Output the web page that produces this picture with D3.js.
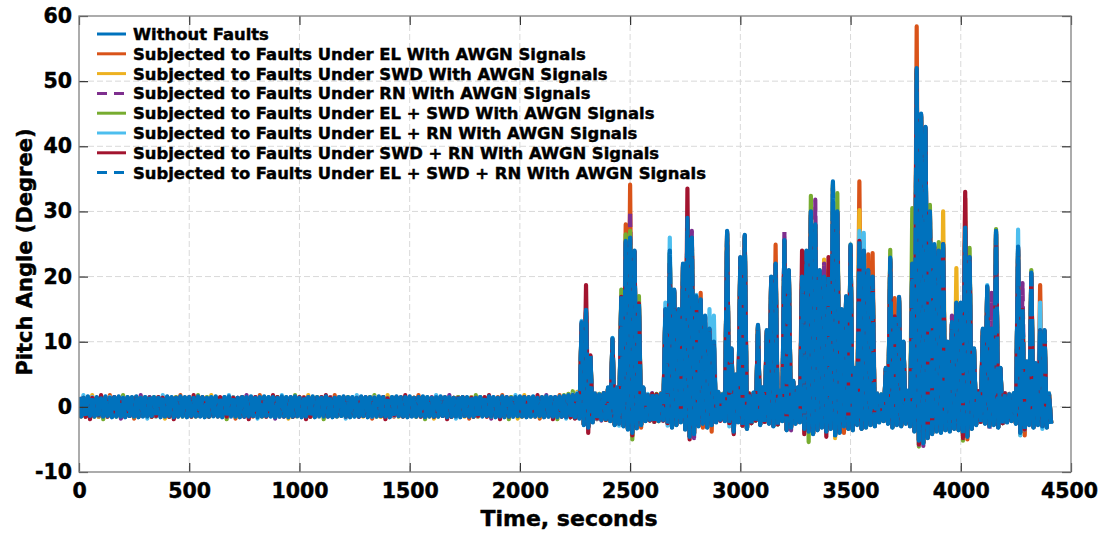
<!DOCTYPE html>
<html>
<head>
<meta charset="utf-8">
<script src="https://cdn.jsdelivr.net/npm/d3@7"></script>
<style>
  html, body { margin: 0; padding: 0; background: #fff; }
  svg { display: block; }
  text { font-family: "DejaVu Sans", sans-serif; font-weight: bold; fill: #000; stroke: #000; stroke-width: 0.45px; }
</style>
</head>
<body>
<svg id="chart" width="1099" height="534"></svg>
<script>
// Pitch angle record, summarised as one peak and one trough per 20 s window.
const binSeconds = 20;

const xTickValues = [0, 500, 1000, 1500, 2000, 2500, 3000, 3500, 4000, 4500];
const yTickValues = [-10, 0, 10, 20, 30, 40, 50, 60];

const seriesNames = [
  "Without Faults",
  "Subjected to Faults Under EL With AWGN Signals",
  "Subjected to Faults Under SWD With AWGN Signals",
  "Subjected to Faults Under RN With AWGN Signals",
  "Subjected to Faults Under EL + SWD With AWGN Signals",
  "Subjected to Faults Under EL + RN With AWGN Signals",
  "Subjected to Faults Under SWD + RN With AWGN Signals",
  "Subjected to Faults Under EL + SWD + RN With AWGN Signals"
];

// Without Faults
const wfPeaks = [
  1.4,1.3,1.5,1.4,1.4,1.3,1.5,1.3,1.4,1.5,1.3,1.4,1.4,1.5,1.3,1.4,
  1.5,1.4,1.3,1.4,1.5,1.4,1.3,1.5,1.4,1.4,1.3,1.5,1.4,1.3,1.4,1.5,
  1.3,1.4,1.5,1.4,1.3,1.4,1.4,1.5,1.3,1.4,1.5,1.4,1.4,1.3,1.5,1.4,
  1.4,1.5,1.3,1.4,1.4,1.5,1.4,1.3,1.5,1.4,1.3,1.4,1.5,1.4,1.4,1.3,
  1.5,1.4,1.4,1.3,1.5,1.4,1.3,1.4,1.5,1.4,1.4,1.5,1.3,1.4,1.5,1.4,
  1.3,1.4,1.5,1.4,1.4,1.3,1.5,1.4,1.4,1.5,1.3,1.4,1.4,1.5,1.4,1.3,
  1.5,1.4,1.3,1.4,1.5,1.4,1.4,1.5,1.3,1.4,1.5,1.4,1.4,1.5,1.6,1.7,
  1.7,1.9,12,14,7,1.9,1.8,2.0,2.8,9.8,2.8,16,24,25,23,15,
  2.8,1.7,1.9,1.8,1.9,14,23,17,14,21,28,25,16,15.5,13,11,
  9,2.2,1.8,26,8,4.5,22,25.5,1.9,2.1,12,2.8,11,19,21,2.4,
  24.5,20,3.6,2.8,19,23,29,27,20,19,19,33.5,29,14,16,24,
  5.5,24.5,23,20,19,1.9,1.8,5.5,22,13,16,9.5,2.4,21,50,44,
  42,29,24,23,24,9.5,12,15,15,26.5,22,8.5,2.4,11,17.5,11,
  26,5.5,1.9,1.8,2.0,23.5,14,6.5,19.5,6.2,11,11,1.9
];
const wfTroughs = [
  -1.4,-1.5,-1.3,-1.4,-1.5,-1.4,-1.3,-1.5,-1.4,-1.4,-1.5,-1.3,-1.4,-1.5,-1.4,-1.4,
  -1.3,-1.4,-1.5,-1.4,-1.3,-1.5,-1.4,-1.4,-1.5,-1.3,-1.4,-1.4,-1.5,-1.4,-1.3,-1.4,
  -1.5,-1.4,-1.3,-1.4,-1.5,-1.4,-1.4,-1.3,-1.5,-1.4,-1.3,-1.4,-1.5,-1.4,-1.4,-1.5,
  -1.4,-1.3,-1.5,-1.4,-1.4,-1.5,-1.3,-1.4,-1.4,-1.5,-1.4,-1.3,-1.4,-1.5,-1.4,-1.4,
  -1.3,-1.5,-1.4,-1.4,-1.3,-1.4,-1.5,-1.4,-1.3,-1.4,-1.5,-1.4,-1.4,-1.3,-1.5,-1.4,
  -1.4,-1.4,-1.3,-1.5,-1.4,-1.4,-1.5,-1.3,-1.4,-1.4,-1.5,-1.4,-1.3,-1.4,-1.5,-1.4,
  -1.5,-1.4,-1.4,-1.3,-1.4,-1.5,-1.4,-1.4,-1.3,-1.5,-1.4,-1.4,-1.5,-1.4,-1.5,-1.5,
  -1.5,-1.7,-2.6,-3.0,-2.2,-1.7,-1.9,-1.8,-2.1,-2.6,-2.4,-2.8,-3.3,-3.8,-3.1,-2.6,
  -2.1,-1.9,-2.2,-2.1,-1.9,-2.4,-3.0,-2.6,-2.2,-3.3,-4.4,-4.0,-2.8,-2.4,-3.0,-2.6,
  -2.2,-1.9,-2.1,-2.4,-3.6,-2.2,-2.8,-3.2,-2.4,-2.1,-2.6,-2.2,-2.4,-2.8,-2.6,-2.1,
  -3.4,-3.0,-2.4,-2.2,-3.2,-3.6,-4.0,-3.4,-3.0,-3.6,-3.2,-4.2,-3.8,-2.8,-3.2,-3.4,
  -2.6,-3.2,-3.0,-2.6,-2.8,-2.2,-2.1,-2.4,-3.0,-2.6,-2.8,-2.4,-2.8,-3.6,-5.0,-5.4,
  -4.6,-4.0,-3.6,-3.8,-3.4,-3.6,-3.2,-3.4,-4.0,-4.4,-3.2,-2.6,-2.2,-2.4,-2.8,-2.6,
  -3.0,-2.4,-2.2,-2.1,-2.4,-3.8,-3.4,-2.6,-3.0,-2.6,-2.8,-3.0,-2.4
];

// Faults under EL
const elPeaks = [
  1.4,1.3,1.5,1.4,1.3,1.4,1.5,1.8,1.4,1.5,1.4,1.3,1.4,1.5,1.3,1.4,
  1.3,1.4,1.4,1.5,1.3,1.4,1.3,1.8,1.4,1.4,1.3,1.5,1.4,1.3,1.4,1.5,
  1.4,1.3,1.5,1.4,1.3,1.4,1.5,1.3,1.4,1.8,1.4,1.3,1.4,1.5,1.3,1.4,
  1.3,1.4,1.4,1.5,1.3,1.4,1.3,1.5,1.4,1.4,1.8,1.5,1.4,1.3,1.4,1.5,
  1.4,1.3,1.5,1.4,1.3,1.4,1.5,1.3,1.4,1.5,1.4,1.3,1.4,1.8,1.3,1.4,
  1.3,1.4,1.4,1.5,1.3,1.4,1.3,1.5,1.4,1.4,1.3,1.5,1.4,1.3,1.4,1.5,
  1.8,1.3,1.5,1.4,1.3,1.4,1.5,1.3,1.4,1.5,1.4,1.3,1.4,1.8,1.5,1.6,
  1.9,1.8,12.5,14.5,7.5,2.1,1.8,2.0,2.9,10,2.9,16.5,28,34.1,23.5,15.5,
  2.9,1.9,1.8,1.9,2.1,14.5,23.5,17.5,14.5,21.5,28.5,25.5,16.5,17.5,13.5,11.5,
  9.5,2.2,2.0,26.5,8.5,4.8,22.5,26,2.1,2.0,12.2,2.9,11.4,19.5,24.9,2.3,
  25,20.5,3.8,2.9,19.5,23.5,29.5,27.5,20.5,19.5,19.5,34,29.5,14.5,16.5,24.4,
  5.8,34.6,23.5,23.4,23.6,2.1,1.8,5.8,22.4,16.7,16.4,9.8,2.4,21.5,58.4,44.5,
  42.5,29.5,24.5,23.5,24.5,9.8,12.5,15.5,15.5,32,22.5,8.8,2.4,11.5,18,11.5,
  26.5,5.8,2.1,2.0,1.9,24,14.5,6.8,20,6.5,18.7,11.4,2.1
];
const elTroughs = [
  -1.4,-1.5,-1.3,-1.4,-1.5,-1.4,-1.3,-1.5,-1.4,-1.4,-1.5,-1.3,-1.8,-1.5,-1.4,-1.3,
  -1.5,-1.4,-1.4,-1.3,-1.5,-1.4,-1.5,-1.3,-1.4,-1.5,-1.4,-1.3,-1.5,-1.4,-1.4,-1.5,
  -1.4,-1.5,-1.3,-1.8,-1.5,-1.4,-1.3,-1.5,-1.4,-1.4,-1.5,-1.3,-1.4,-1.5,-1.4,-1.3,
  -1.5,-1.4,-1.4,-1.3,-1.5,-1.4,-1.5,-1.3,-1.4,-1.5,-1.4,-1.3,-1.5,-1.4,-1.4,-1.5,
  -1.4,-1.5,-1.8,-1.4,-1.5,-1.4,-1.3,-1.5,-1.4,-1.4,-1.5,-1.3,-1.4,-1.5,-1.4,-1.3,
  -1.5,-1.4,-1.4,-1.3,-1.5,-1.4,-1.5,-1.3,-1.8,-1.5,-1.4,-1.3,-1.5,-1.4,-1.4,-1.5,
  -1.4,-1.5,-1.3,-1.4,-1.5,-1.4,-1.3,-1.5,-1.8,-1.4,-1.5,-1.3,-1.4,-1.5,-1.5,-1.6,
  -1.7,-1.6,-2.6,-3.1,-2.3,-1.9,-1.8,-2.0,-2.1,-2.7,-2.5,-2.9,-3.4,-3.8,-3.2,-3.2,
  -2.1,-2.1,-2.3,-2.1,-2.1,-2.5,-3.1,-2.7,-2.3,-3.4,-4.4,-4.0,-2.9,-3.2,-3.1,-3.8,
  -2.3,-2.1,-2.1,-2.5,-3.6,-2.3,-2.9,-3.3,-2.5,-2.1,-2.7,-2.3,-2.5,-2.9,-2.7,-2.1,
  -3.5,-3.1,-2.5,-2.3,-3.3,-3.7,-4.1,-3.5,-3.1,-3.7,-3.3,-4.3,-3.9,-4.0,-3.3,-3.5,
  -2.7,-3.3,-3.1,-2.7,-2.9,-2.3,-2.1,-2.5,-3.1,-2.7,-2.9,-2.5,-2.9,-3.7,-5.1,-5.5,
  -4.7,-4.1,-3.7,-3.9,-3.5,-3.7,-3.3,-3.5,-4.1,-5.0,-3.3,-2.7,-2.3,-2.5,-2.9,-2.7,
  -3.1,-2.5,-2.3,-2.1,-2.5,-3.9,-4.4,-2.7,-3.1,-2.7,-2.9,-3.1,-2.5
];

// Faults under SWD
const swdPeaks = [
  1.3,1.4,1.4,1.8,1.3,1.4,1.3,1.5,1.4,1.4,1.3,1.5,1.4,1.3,1.4,1.5,
  1.4,1.3,1.5,1.4,1.3,1.4,1.5,1.3,1.4,1.5,1.4,1.3,1.4,1.5,1.8,1.4,
  1.3,1.4,1.4,1.5,1.3,1.4,1.3,1.5,1.4,1.4,1.3,1.5,1.4,1.3,1.4,1.5,
  1.4,1.3,1.5,1.4,1.8,1.4,1.5,1.3,1.4,1.5,1.4,1.3,1.4,1.5,1.3,1.4,
  1.3,1.4,1.4,1.5,1.3,1.4,1.8,1.5,1.4,1.4,1.3,1.5,1.4,1.3,1.4,1.5,
  1.4,1.3,1.5,1.4,1.3,1.4,1.5,1.3,1.4,1.5,1.4,1.3,1.4,1.5,1.3,1.4,
  1.3,1.4,1.4,1.5,1.3,1.8,1.3,1.5,1.4,1.4,1.3,1.5,1.4,1.3,1.5,1.6,
  1.8,2.3,12.6,14.4,7.6,1.9,2.0,1.9,2.8,10.1,2.8,16.6,24.8,25.2,23.4,15.6,
  2.8,1.9,1.8,1.9,1.8,14.6,23.4,17.4,14.6,21.4,28.4,25.4,16.4,16,13.6,11.6,
  9.6,2.1,1.9,26.4,8.6,4.7,22.4,25.8,2.0,2.1,12.1,2.8,11.3,19.4,21.4,2.3,
  24.8,20.4,3.7,2.8,19.4,23.4,29.4,27.4,20.6,22.6,21,33.8,29.4,14.6,16.4,24.3,
  5.6,30.2,23.4,20.4,19.4,2.0,1.9,5.6,22.3,13.6,16.3,9.6,2.3,21.4,51,44.4,
  42.4,29.4,24.4,23.4,30,9.6,12.6,21.3,15.6,26.8,22.4,8.6,2.3,11.6,17.8,11.6,
  26.4,5.6,2.0,1.9,2.0,24,14.6,6.7,20,6.4,11.4,11.3,1.9
];
const swdTroughs = [
  -1.5,-1.4,-1.4,-1.3,-1.5,-1.4,-1.5,-1.3,-1.4,-1.5,-1.4,-1.3,-1.5,-1.4,-1.4,-1.5,
  -1.4,-1.5,-1.3,-1.8,-1.5,-1.4,-1.3,-1.5,-1.4,-1.4,-1.5,-1.3,-1.4,-1.5,-1.4,-1.3,
  -1.5,-1.4,-1.4,-1.3,-1.5,-1.4,-1.5,-1.3,-1.4,-1.5,-1.4,-1.3,-1.5,-1.4,-1.4,-1.8,
  -1.4,-1.5,-1.3,-1.4,-1.5,-1.4,-1.3,-1.5,-1.4,-1.4,-1.5,-1.3,-1.4,-1.5,-1.4,-1.3,
  -1.5,-1.4,-1.4,-1.3,-1.5,-1.4,-1.5,-1.3,-1.4,-1.5,-1.4,-1.3,-1.5,-1.4,-1.4,-1.5,
  -1.8,-1.5,-1.3,-1.4,-1.5,-1.4,-1.3,-1.5,-1.4,-1.4,-1.5,-1.3,-1.4,-1.5,-1.4,-1.3,
  -1.5,-1.4,-1.4,-1.8,-1.5,-1.4,-1.5,-1.3,-1.4,-1.5,-1.4,-1.3,-1.5,-1.4,-1.5,-1.6,
  -1.6,-1.7,-2.7,-3.1,-2.3,-1.8,-1.9,-2.0,-2.1,-2.7,-2.5,-2.9,-3.4,-4.6,-3.2,-2.7,
  -2.1,-2.0,-2.3,-2.2,-2.0,-2.5,-3.1,-2.7,-2.3,-3.4,-4.5,-4.1,-2.9,-2.5,-3.1,-2.7,
  -2.3,-2.0,-2.1,-2.5,-3.7,-2.3,-2.9,-3.3,-2.5,-2.1,-2.7,-2.3,-2.5,-2.9,-2.7,-2.1,
  -3.5,-3.1,-2.5,-2.3,-3.3,-3.7,-4.1,-3.5,-3.1,-3.7,-3.3,-4.8,-3.9,-2.9,-3.3,-3.5,
  -2.7,-3.3,-3.1,-2.7,-2.9,-2.3,-2.1,-2.5,-3.1,-2.7,-2.9,-2.5,-2.9,-3.7,-5.1,-5.5,
  -4.7,-4.1,-3.7,-3.9,-3.5,-3.7,-3.3,-3.5,-4.1,-4.5,-3.3,-2.7,-2.3,-2.5,-2.9,-2.7,
  -3.1,-2.5,-2.3,-2.1,-2.5,-4.3,-3.5,-2.7,-3.1,-2.7,-2.9,-3.1,-2.5
];

// Faults under RN
const rnPeaks = [
  1.4,1.5,1.3,1.4,1.4,1.5,1.3,1.4,1.5,1.4,1.3,1.4,1.5,1.4,1.8,1.3,
  1.5,1.3,1.4,1.4,1.5,1.3,1.4,1.4,1.3,1.5,1.4,1.4,1.3,1.5,1.4,1.4,
  1.4,1.5,1.3,1.4,1.4,1.5,1.8,1.4,1.5,1.4,1.3,1.4,1.5,1.4,1.4,1.3,
  1.5,1.3,1.4,1.4,1.5,1.3,1.4,1.4,1.3,1.5,1.4,1.4,1.3,1.8,1.4,1.4,
  1.4,1.5,1.3,1.4,1.4,1.5,1.3,1.4,1.5,1.4,1.3,1.4,1.5,1.4,1.4,1.3,
  1.5,1.3,1.4,1.4,1.8,1.3,1.4,1.4,1.3,1.5,1.4,1.4,1.3,1.5,1.4,1.4,
  1.4,1.5,1.3,1.4,1.4,1.5,1.3,1.4,1.5,1.4,1.8,1.4,1.5,1.4,1.5,1.6,
  1.7,1.9,12.4,14.6,7.4,2.0,1.9,1.8,2.9,10.2,2.9,16.4,25,30,23.6,15.4,
  2.9,1.8,2.1,1.8,1.9,14.4,23.6,17.6,14.4,21.6,28.6,27,16.6,16.2,13.4,11.4,
  9.4,2.2,1.8,26.6,8.4,4.6,22.6,25.9,1.9,2.0,12.0,2.9,11.2,19.6,21.6,2.2,
  26.9,20.6,3.8,2.9,19.6,23.6,29.6,31.8,20.4,22,19.6,33.6,29.6,14.4,16.6,24.2,
  5.7,25.2,23.6,20.6,19.6,2.1,1.8,5.7,22.2,13.4,16.2,9.7,2.2,21.6,51.2,44.6,
  42.6,29.6,24.6,23.6,24.4,9.7,14,15.6,15.4,26.9,22.6,8.7,2.2,11.4,17.9,17.5,
  26.6,5.7,2.1,1.8,1.9,24.2,19,6.6,20.1,6.3,11.3,11.5,2.0
];
const rnTroughs = [
  -1.4,-1.3,-1.5,-1.4,-1.4,-1.5,-1.3,-1.4,-1.4,-1.8,-1.3,-1.4,-1.5,-1.4,-1.3,-1.4,
  -1.5,-1.4,-1.3,-1.4,-1.5,-1.4,-1.4,-1.3,-1.5,-1.4,-1.4,-1.5,-1.3,-1.4,-1.4,-1.5,
  -1.4,-1.3,-1.5,-1.4,-1.4,-1.5,-1.3,-1.4,-1.4,-1.5,-1.3,-1.4,-1.8,-1.4,-1.3,-1.4,
  -1.5,-1.4,-1.3,-1.4,-1.5,-1.4,-1.4,-1.3,-1.5,-1.4,-1.4,-1.5,-1.3,-1.4,-1.4,-1.5,
  -1.4,-1.3,-1.5,-1.4,-1.4,-1.5,-1.3,-1.4,-1.4,-1.8,-1.3,-1.4,-1.5,-1.4,-1.3,-1.4,
  -1.5,-1.4,-1.3,-1.4,-1.5,-1.4,-1.4,-1.3,-1.5,-1.4,-1.4,-1.5,-1.3,-1.8,-1.4,-1.5,
  -1.4,-1.3,-1.5,-1.4,-1.4,-1.5,-1.3,-1.4,-1.4,-1.5,-1.3,-1.4,-1.5,-1.4,-1.5,-1.6,
  -1.7,-1.6,-2.7,-3.0,-2.3,-1.8,-2.1,-1.9,-2.1,-2.7,-2.5,-2.9,-3.4,-3.9,-3.2,-2.7,
  -2.1,-2.1,-2.3,-2.1,-2.1,-2.5,-3.1,-2.7,-2.3,-3.4,-4.5,-4.8,-2.9,-2.5,-3.1,-2.7,
  -2.3,-2.1,-2.1,-2.5,-3.7,-2.3,-2.9,-3.3,-2.5,-2.1,-2.7,-2.3,-2.5,-2.9,-2.7,-2.1,
  -3.5,-3.6,-2.5,-2.3,-3.3,-3.7,-4.1,-3.5,-3.1,-3.7,-3.3,-4.3,-3.9,-2.9,-3.3,-3.5,
  -2.7,-3.3,-3.1,-2.7,-2.9,-2.3,-2.1,-2.5,-3.1,-2.7,-2.9,-2.5,-2.9,-3.7,-5.1,-6.0,
  -4.7,-4.1,-3.7,-3.9,-3.5,-3.7,-3.3,-3.5,-4.1,-4.5,-3.3,-2.7,-2.3,-2.5,-3.6,-2.7,
  -3.1,-2.5,-2.3,-2.1,-2.5,-3.9,-3.5,-2.7,-3.1,-2.7,-2.9,-3.1,-2.5
];

// Faults under EL + SWD
const elSwdPeaks = [
  1.3,1.4,1.5,1.4,1.3,1.5,1.4,1.4,1.3,1.4,1.8,1.4,1.3,1.5,1.4,1.4,
  1.4,1.5,1.4,1.3,1.4,1.4,1.5,1.3,1.4,1.4,1.3,1.8,1.4,1.5,1.3,1.4,
  1.3,1.4,1.5,1.4,1.3,1.5,1.4,1.4,1.3,1.4,1.5,1.4,1.3,1.5,1.4,1.4,
  1.4,1.8,1.4,1.3,1.4,1.4,1.5,1.3,1.4,1.4,1.3,1.5,1.4,1.5,1.3,1.4,
  1.3,1.4,1.5,1.8,1.3,1.5,1.4,1.4,1.3,1.4,1.5,1.4,1.3,1.5,1.4,1.4,
  1.4,1.5,1.4,1.3,1.4,1.4,1.5,1.3,1.4,1.4,1.8,1.5,1.4,1.5,1.3,1.4,
  1.3,1.4,1.5,1.4,1.3,1.5,1.4,1.4,1.3,1.4,1.5,1.4,1.3,1.5,1.8,2.0,
  2.4,1.9,12.7,14.7,7.7,1.9,2.0,2.0,2.8,10.3,2.8,18,26.5,27,23.7,17,
  2.8,1.9,1.9,2.0,1.9,14.7,23.7,17.7,14.7,21.7,28.7,25.7,16.7,16.3,13.7,11.7,
  9.7,2.1,2.0,26.7,8.7,4.9,22.7,26.1,2.0,2.1,12.3,2.8,11.5,19.7,21.7,2.4,
  25.3,20.7,3.9,2.8,19.7,23.7,32.4,27.7,20.7,19.7,19.7,34.2,32.8,14.7,16.7,24.9,
  5.9,25.3,23.7,20.7,19.7,2.0,1.9,5.9,24.1,13.7,16.6,9.9,2.4,30.5,51.5,44.7,
  42.7,31,24.7,25.3,24.7,9.9,12.7,15.7,15.7,28.5,24.4,8.9,2.4,11.7,18.2,11.7,
  27.3,5.9,2.0,1.9,2.0,24.3,14.7,6.9,21,6.6,11.5,11.6,2.0
];
const elSwdTroughs = [
  -1.4,-1.3,-1.4,-1.5,-1.4,-1.9,-1.4,-1.3,-1.5,-1.4,-1.4,-1.3,-1.5,-1.4,-1.3,-1.4,
  -1.5,-1.4,-1.3,-1.4,-1.5,-1.4,-1.3,-1.4,-1.4,-1.5,-1.3,-1.4,-1.4,-1.5,-1.4,-1.3,
  -1.4,-1.9,-1.4,-1.5,-1.4,-1.4,-1.4,-1.3,-1.5,-1.4,-1.4,-1.3,-1.5,-1.4,-1.3,-1.4,
  -1.5,-1.4,-1.3,-1.4,-1.5,-1.4,-1.3,-1.9,-1.4,-1.5,-1.3,-1.4,-1.4,-1.5,-1.4,-1.3,
  -1.4,-1.3,-1.4,-1.5,-1.4,-1.4,-1.4,-1.3,-1.5,-1.4,-1.4,-1.3,-1.5,-1.4,-1.9,-1.4,
  -1.5,-1.4,-1.3,-1.4,-1.5,-1.4,-1.3,-1.4,-1.4,-1.5,-1.3,-1.4,-1.4,-1.5,-1.4,-1.3,
  -1.4,-1.9,-1.4,-1.5,-1.4,-1.4,-1.4,-1.3,-1.5,-1.4,-1.4,-1.3,-1.9,-1.4,-1.5,-1.6,
  -1.7,-1.7,-2.7,-3.1,-2.3,-1.8,-1.9,-2.0,-2.1,-2.7,-2.5,-2.9,-3.4,-5.0,-3.2,-2.7,
  -2.1,-2.0,-2.3,-2.2,-2.0,-2.5,-3.1,-2.7,-2.3,-3.4,-4.5,-4.1,-2.9,-2.5,-3.1,-2.7,
  -2.3,-2.0,-2.1,-2.5,-3.7,-2.3,-2.9,-3.3,-2.5,-2.1,-2.7,-2.3,-2.5,-2.9,-2.7,-2.1,
  -3.5,-3.1,-2.5,-2.3,-3.3,-5.4,-4.1,-3.5,-3.1,-3.7,-3.3,-4.3,-3.9,-2.9,-3.3,-3.5,
  -2.7,-3.3,-3.1,-2.7,-2.9,-2.3,-2.1,-2.5,-3.1,-2.7,-2.9,-2.5,-2.9,-3.7,-6.1,-5.5,
  -4.7,-4.1,-3.7,-3.9,-3.5,-3.7,-3.3,-3.5,-5.2,-4.5,-3.3,-2.7,-2.3,-2.5,-2.9,-2.7,
  -3.1,-2.5,-2.3,-2.1,-2.5,-3.9,-3.5,-2.7,-3.1,-2.7,-2.9,-3.1,-2.5
];

// Faults under EL + RN
const elRnPeaks = [
  1.4,1.8,1.3,1.5,1.4,1.4,1.3,1.5,1.4,1.3,1.4,1.5,1.4,1.4,1.3,1.5,
  1.3,1.4,1.5,1.8,1.4,1.3,1.4,1.5,1.3,1.4,1.4,1.5,1.3,1.4,1.5,1.4,
  1.4,1.5,1.8,1.5,1.4,1.4,1.3,1.5,1.4,1.3,1.4,1.5,1.4,1.4,1.8,1.5,
  1.3,1.4,1.5,1.4,1.4,1.3,1.4,1.5,1.3,1.4,1.4,1.5,1.3,1.4,1.5,1.8,
  1.4,1.3,1.3,1.5,1.4,1.4,1.3,1.5,1.4,1.3,1.4,1.5,1.4,1.4,1.3,1.5,
  1.3,1.8,1.5,1.4,1.4,1.3,1.4,1.5,1.3,1.4,1.4,1.5,1.3,1.4,1.5,1.4,
  1.4,1.3,1.3,1.8,1.4,1.4,1.3,1.5,1.4,1.3,1.4,1.5,1.4,1.4,1.6,1.7,
  1.9,2.1,13.2,14.8,7.8,2.1,1.9,2.0,2.9,10.6,2.9,16.8,25.2,25.6,23.8,15.8,
  2.9,2.0,1.9,1.8,2.0,16,26,17.8,14.8,21.8,28.8,25.8,17.2,16.4,13.8,15,
  14,2.1,1.9,26.8,8.8,4.8,22.8,26.2,1.9,2.2,12.4,2.9,11.6,19.8,21.8,2.4,
  25.4,20.8,3.9,2.9,19.8,23.8,29.8,27.8,20.8,19.8,19.8,34.4,29.8,14.8,16.8,24.6,
  5.9,27,26.7,20.8,19.8,2.1,1.9,5.9,22.6,13.8,16.7,9.9,2.4,21.8,50,44.8,
  42.8,29.8,24.8,23.8,24.8,9.9,12.8,15.8,15.8,27.2,22.8,8.9,2.4,11.8,18.7,11.8,
  26.8,5.9,1.9,2.0,2.0,27.2,14.8,6.9,20.3,6.6,16,11.6,2.1
];
const elRnTroughs = [
  -1.3,-1.4,-1.5,-1.4,-1.3,-1.4,-1.5,-1.4,-1.4,-1.3,-1.5,-1.4,-1.4,-1.5,-1.3,-1.8,
  -1.4,-1.5,-1.4,-1.3,-1.4,-1.4,-1.5,-1.3,-1.4,-1.5,-1.4,-1.3,-1.4,-1.4,-1.5,-1.4,
  -1.3,-1.4,-1.5,-1.4,-1.3,-1.4,-1.5,-1.4,-1.8,-1.3,-1.5,-1.4,-1.4,-1.5,-1.3,-1.4,
  -1.4,-1.5,-1.4,-1.3,-1.4,-1.4,-1.5,-1.3,-1.4,-1.5,-1.4,-1.3,-1.8,-1.4,-1.5,-1.4,
  -1.3,-1.4,-1.5,-1.4,-1.3,-1.4,-1.5,-1.4,-1.4,-1.3,-1.5,-1.4,-1.4,-1.5,-1.3,-1.4,
  -1.4,-1.5,-1.4,-1.3,-1.4,-1.8,-1.5,-1.3,-1.4,-1.5,-1.4,-1.3,-1.4,-1.4,-1.5,-1.4,
  -1.3,-1.4,-1.5,-1.4,-1.3,-1.4,-1.5,-1.4,-1.4,-1.3,-1.5,-1.4,-1.4,-1.5,-1.8,-1.6,
  -1.7,-1.7,-2.7,-3.1,-2.3,-1.9,-1.9,-1.8,-2.1,-2.7,-2.9,-2.9,-3.4,-3.9,-3.2,-2.7,
  -2.1,-2.0,-2.3,-2.1,-2.1,-2.9,-3.1,-2.7,-2.3,-3.4,-4.5,-4.1,-2.9,-2.5,-3.1,-2.7,
  -2.3,-2.0,-2.1,-3.0,-4.0,-2.3,-2.9,-3.3,-2.5,-2.1,-2.7,-2.3,-2.5,-2.9,-2.7,-2.1,
  -3.5,-3.1,-2.5,-2.3,-3.3,-3.7,-4.1,-3.5,-3.1,-3.7,-3.3,-4.3,-3.9,-2.9,-3.3,-3.5,
  -2.7,-3.3,-3.1,-2.7,-2.9,-2.3,-2.1,-2.5,-3.1,-2.7,-2.9,-2.5,-2.9,-3.7,-5.8,-5.5,
  -4.7,-4.1,-3.7,-3.9,-3.5,-3.7,-3.3,-3.5,-4.1,-4.5,-3.3,-2.7,-2.3,-2.5,-2.9,-2.7,
  -3.1,-2.5,-2.3,-2.1,-2.5,-4.4,-3.5,-2.7,-3.1,-2.7,-3.4,-3.1,-2.5
];

// Faults under SWD + RN
const swdRnPeaks = [
  1.5,1.4,1.3,1.4,1.4,1.8,1.3,1.4,1.5,1.4,1.3,1.4,1.4,1.5,1.3,1.4,
  1.4,1.3,1.5,1.4,1.3,1.4,1.4,1.5,1.3,1.4,1.8,1.4,1.5,1.3,1.4,1.4,
  1.5,1.4,1.3,1.4,1.4,1.5,1.3,1.4,1.5,1.4,1.3,1.4,1.8,1.5,1.3,1.4,
  1.4,1.3,1.5,1.4,1.3,1.4,1.4,1.5,1.8,1.4,1.4,1.4,1.5,1.3,1.4,1.4,
  1.5,1.4,1.3,1.4,1.4,1.5,1.3,1.4,1.5,1.4,1.8,1.4,1.4,1.5,1.3,1.4,
  1.4,1.3,1.5,1.4,1.3,1.4,1.4,1.5,1.3,1.4,1.4,1.4,1.5,1.8,1.4,1.4,
  1.5,1.4,1.3,1.4,1.4,1.5,1.3,1.4,1.8,1.4,1.3,1.4,1.4,1.5,1.5,1.7,
  1.8,1.8,12.8,18.7,7.9,2.0,1.8,2.1,2.8,10.4,2.8,16.9,25.3,25.7,23.9,15.9,
  2.8,1.8,2.0,1.9,1.8,14.9,22,17.9,14.9,21.9,33.5,25.9,16.9,16.4,13.9,11.9,
  9.9,2.2,1.8,26.9,8.9,4.9,22.9,26.3,2.0,2.0,12.5,2.8,11.7,19.9,21.9,2.3,
  25.5,20.9,3.9,2.8,24,23.9,29.9,27.9,20.9,19.9,23,30,29.9,14.9,16.9,24.7,
  5.9,25.5,23.9,20.9,19.9,2.0,1.8,5.9,22.7,13.9,16.8,9.9,2.4,21.9,51.8,44.9,
  42.9,29.9,24.5,23.9,25,9.9,12.9,15.9,15.9,33,22.9,8.9,2.4,11.9,18.4,11.9,
  26.9,5.9,2.0,1.9,1.8,24.5,14.9,6.9,20.5,6.6,11.7,11.7,1.9
];
const swdRnTroughs = [
  -1.4,-1.5,-1.9,-1.4,-1.3,-1.4,-1.5,-1.4,-1.4,-1.3,-1.5,-1.4,-1.4,-1.5,-1.3,-1.4,
  -1.5,-1.4,-1.3,-1.4,-1.5,-1.9,-1.4,-1.3,-1.4,-1.5,-1.4,-1.4,-1.3,-1.5,-1.4,-1.4,
  -1.4,-1.5,-1.3,-1.4,-1.4,-1.5,-1.9,-1.4,-1.3,-1.4,-1.5,-1.4,-1.4,-1.3,-1.5,-1.4,
  -1.5,-1.4,-1.4,-1.9,-1.5,-1.4,-1.3,-1.4,-1.4,-1.5,-1.4,-1.3,-1.5,-1.4,-1.4,-1.5,
  -1.4,-1.5,-1.3,-1.4,-1.4,-1.9,-1.4,-1.3,-1.4,-1.5,-1.4,-1.4,-1.3,-1.5,-1.4,-1.4,
  -1.5,-1.4,-1.4,-1.9,-1.5,-1.4,-1.3,-1.4,-1.4,-1.5,-1.4,-1.3,-1.5,-1.4,-1.4,-1.9,
  -1.4,-1.5,-1.3,-1.4,-1.4,-1.5,-1.4,-1.3,-1.4,-1.5,-1.4,-1.9,-1.3,-1.5,-1.5,-1.6,
  -1.8,-1.7,-2.7,-4.0,-2.3,-1.8,-1.9,-2.0,-2.1,-2.7,-2.5,-2.9,-3.4,-4.4,-3.2,-2.7,
  -2.1,-2.1,-2.3,-2.1,-2.1,-2.5,-3.1,-2.7,-2.3,-3.4,-5.0,-4.1,-2.9,-2.5,-3.1,-2.7,
  -2.3,-2.1,-2.1,-2.5,-4.2,-2.3,-2.9,-3.3,-2.5,-2.1,-2.7,-2.3,-2.5,-2.9,-2.7,-2.1,
  -3.5,-3.1,-2.5,-2.3,-4.2,-3.7,-4.1,-3.5,-3.1,-4.6,-3.3,-4.3,-3.9,-2.9,-3.3,-3.5,
  -2.7,-3.3,-3.1,-2.7,-2.9,-2.3,-2.1,-2.5,-3.1,-2.7,-2.9,-2.5,-2.9,-3.7,-5.8,-5.5,
  -4.7,-4.1,-3.7,-3.9,-3.5,-3.7,-3.3,-3.5,-4.8,-4.5,-3.3,-2.7,-2.3,-2.5,-2.9,-2.7,
  -3.1,-2.5,-2.3,-2.1,-2.5,-3.9,-3.5,-2.7,-3.1,-2.7,-2.9,-3.1,-2.5
];

// Faults under EL + SWD + RN
const elSwdRnPeaks = [
  1.5,1.4,1.6,1.5,1.5,1.3,1.6,1.4,1.5,1.6,1.4,1.5,1.5,1.6,1.4,1.5,
  1.6,1.5,1.4,1.5,1.6,1.5,1.4,1.6,1.5,1.5,1.4,1.6,1.5,1.4,1.5,1.6,
  1.4,1.5,1.6,1.5,1.4,1.5,1.5,1.6,1.4,1.5,1.6,1.5,1.5,1.4,1.6,1.5,
  1.5,1.6,1.4,1.5,1.5,1.6,1.5,1.4,1.6,1.5,1.4,1.5,1.6,1.5,1.5,1.4,
  1.6,1.5,1.5,1.4,1.6,1.5,1.4,1.5,1.6,1.5,1.5,1.6,1.4,1.5,1.6,1.5,
  1.4,1.5,1.6,1.5,1.5,1.4,1.6,1.5,1.5,1.6,1.4,1.5,1.5,1.6,1.5,1.4,
  1.6,1.5,1.4,1.5,1.6,1.5,1.5,1.6,1.4,1.5,1.6,1.5,1.5,1.6,1.7,1.8,
  1.8,2.0,13,14.9,8,2.0,1.9,2.1,3,10.5,3,17,25.5,26,24,16,
  3,1.8,2.0,1.7,2.0,15,24,18,15,22,29,26,17,16.5,14,12,
  10,2.3,1.9,27,9,5,23,26.4,2,2.2,12.6,3,11.8,20,22,2.5,
  25.6,21,4,3,20,24,30,28,21,20,20,34.6,30,15,17,24.9,
  6,25.6,24,21,20,2,1.9,6,22.9,14,16.9,10,2.5,22,52,45,
  43,30,25,24,25,10,13,16,16,27.5,23,9,2.5,12,18.5,12,
  27,6,2,1.9,2.1,24.6,15,7,20.6,6.7,11.8,11.8,2
];
const elSwdRnTroughs = [
  -1.5,-1.6,-1.4,-1.5,-1.6,-1.5,-1.4,-1.6,-1.5,-1.5,-1.6,-1.4,-1.5,-1.6,-1.5,-1.5,
  -1.4,-1.5,-1.6,-1.5,-1.4,-1.6,-1.5,-1.5,-1.6,-1.4,-1.5,-1.5,-1.6,-1.5,-1.4,-1.5,
  -1.6,-1.5,-1.4,-1.5,-1.6,-1.5,-1.5,-1.4,-1.6,-1.5,-1.4,-1.5,-1.6,-1.5,-1.5,-1.6,
  -1.5,-1.4,-1.6,-1.5,-1.5,-1.6,-1.4,-1.5,-1.5,-1.6,-1.5,-1.4,-1.5,-1.6,-1.5,-1.5,
  -1.4,-1.6,-1.5,-1.5,-1.4,-1.5,-1.6,-1.5,-1.4,-1.5,-1.6,-1.5,-1.5,-1.4,-1.6,-1.5,
  -1.5,-1.5,-1.4,-1.6,-1.5,-1.5,-1.6,-1.4,-1.5,-1.5,-1.6,-1.5,-1.4,-1.5,-1.6,-1.5,
  -1.6,-1.5,-1.5,-1.4,-1.5,-1.6,-1.5,-1.5,-1.4,-1.6,-1.5,-1.5,-1.6,-1.5,-1.6,-1.6,
  -1.6,-1.8,-2.8,-3.2,-2.4,-1.8,-2.0,-1.9,-2.2,-2.8,-2.6,-3.0,-3.5,-4.0,-3.3,-2.8,
  -2.2,-2.0,-2.4,-2.2,-2.0,-2.6,-3.2,-2.8,-2.4,-3.5,-4.6,-4.2,-3.0,-2.6,-3.2,-2.8,
  -2.4,-2.0,-2.2,-2.6,-3.8,-2.4,-3.0,-3.4,-2.6,-2.2,-2.8,-2.4,-2.6,-3.0,-2.8,-2.2,
  -3.6,-3.2,-2.6,-2.4,-3.4,-3.8,-4.2,-3.6,-3.2,-3.8,-3.4,-4.4,-4.0,-3.0,-3.4,-3.6,
  -2.8,-3.4,-3.2,-2.8,-3.0,-2.4,-2.2,-2.6,-3.2,-2.8,-3.0,-2.6,-3.0,-3.8,-5.2,-5.6,
  -4.8,-4.2,-3.8,-4.0,-3.6,-3.8,-3.4,-3.6,-4.2,-4.6,-3.4,-2.8,-2.4,-2.6,-3.0,-2.8,
  -3.2,-2.6,-2.4,-2.2,-2.6,-4.0,-3.6,-2.8,-3.2,-2.8,-3.0,-3.2,-2.6
];

// Series in plotting order (later ones are drawn on top).
const series = [
  { name: seriesNames[0], color: "#0072BD", dash: null,    peaks: wfPeaks,      troughs: wfTroughs },
  { name: seriesNames[1], color: "#D95319", dash: null,    peaks: elPeaks,      troughs: elTroughs },
  { name: seriesNames[2], color: "#EDB120", dash: null,    peaks: swdPeaks,     troughs: swdTroughs },
  { name: seriesNames[3], color: "#7E2F8E", dash: "13,5",  peaks: rnPeaks,      troughs: rnTroughs },
  { name: seriesNames[4], color: "#77AC30", dash: null,    peaks: elSwdPeaks,   troughs: elSwdTroughs },
  { name: seriesNames[5], color: "#4DBEEE", dash: null,    peaks: elRnPeaks,    troughs: elRnTroughs },
  { name: seriesNames[6], color: "#A2142F", dash: null,    peaks: swdRnPeaks,   troughs: swdRnTroughs },
  { name: seriesNames[7], color: "#0072BD", dash: "27,3",  peaks: elSwdRnPeaks, troughs: elSwdRnTroughs }
];

const width = 1099, height = 534;
const plot = { left: 79, top: 16, right: 1071, bottom: 472 };

const svg = d3.select("#chart");
svg.append("rect").attr("width", width).attr("height", height).attr("fill", "#fff");

const x = d3.scaleLinear().domain([0, 4500]).range([plot.left, plot.right]);
const y = d3.scaleLinear().domain([-10, 60]).range([plot.bottom, plot.top]);

// dashed grid
const grid = svg.append("g").attr("stroke", "#d9d9d9").attr("stroke-width", 1).attr("stroke-dasharray", "6,3");
grid.selectAll("line.vx").data(xTickValues.slice(1, -1)).join("line")
  .attr("x1", d => x(d)).attr("x2", d => x(d)).attr("y1", plot.top).attr("y2", plot.bottom);
grid.selectAll("line.hy").data(yTickValues.slice(1, -1)).join("line")
  .attr("x1", plot.left).attr("x2", plot.right).attr("y1", d => y(d)).attr("y2", d => y(d));

// data traces
svg.append("clipPath").attr("id", "plot-clip").append("rect")
  .attr("x", plot.left).attr("y", plot.top)
  .attr("width", plot.right - plot.left).attr("height", plot.bottom - plot.top);

const line = d3.line().x(d => x(d[0])).y(d => y(d[1]));
const traces = svg.append("g").attr("clip-path", "url(#plot-clip)");
series.forEach(s => {
  const n = Math.min(s.peaks.length, s.troughs.length);
  const pts = [];
  for (let i = 0; i < n; i++) {
    pts.push([i * binSeconds, s.peaks[i]]);
    pts.push([i * binSeconds + binSeconds / 2, s.troughs[i]]);
  }
  traces.append("path")
    .attr("d", line(pts))
    .attr("fill", "none")
    .attr("stroke", s.color)
    .attr("stroke-width", 4.2)
    .attr("stroke-linejoin", "round")
    .attr("stroke-dasharray", s.dash);
});

// axes with inward ticks on all four sides
const tickLen = 9;
const plain = d => String(d);
const styleAxis = g => {
  g.select(".domain").remove();
  g.selectAll(".tick line").attr("stroke", "#333").attr("stroke-width", 1.2);
};
const styleLabels = g => g.selectAll("text")
  .attr("font-size", 20.5).attr("font-family", "DejaVu Sans").attr("font-weight", "bold")
  .attr("fill", "#000");
svg.append("g").attr("transform", `translate(0,${plot.bottom})`)
  .call(d3.axisBottom(x).tickValues(xTickValues).tickFormat(plain).tickSizeInner(-tickLen).tickSizeOuter(0).tickPadding(11))
  .call(styleAxis).call(styleLabels)
  .call(g => g.selectAll("text").filter(d => d === 4500).attr("dx", -2));
svg.append("g").attr("transform", `translate(0,${plot.top})`)
  .call(d3.axisTop(x).tickValues(xTickValues).tickSizeInner(-tickLen).tickSizeOuter(0).tickFormat(""))
  .call(styleAxis);
svg.append("g").attr("transform", `translate(${plot.left},0)`)
  .call(d3.axisLeft(y).tickValues(yTickValues).tickFormat(plain).tickSizeInner(-tickLen).tickSizeOuter(0).tickPadding(7))
  .call(styleAxis).call(styleLabels);
svg.append("g").attr("transform", `translate(${plot.right},0)`)
  .call(d3.axisRight(y).tickValues(yTickValues).tickSizeInner(-tickLen).tickSizeOuter(0).tickFormat(""))
  .call(styleAxis);

// axes box
svg.append("rect")
  .attr("x", plot.left).attr("y", plot.top)
  .attr("width", plot.right - plot.left).attr("height", plot.bottom - plot.top)
  .attr("fill", "none").attr("stroke", "#808080").attr("stroke-width", 1.3);

// axis titles
svg.append("text").attr("x", 569).attr("y", 526).attr("text-anchor", "middle")
  .attr("font-size", 22).text("Time, seconds");
svg.append("text").attr("transform", "translate(32,252) rotate(-90)").attr("text-anchor", "middle")
  .attr("font-size", 21).text("Pitch Angle (Degree)");

// legend
const legend = svg.append("g");
series.forEach((s, i) => {
  const cy = 34 + i * 19.8;
  legend.append("line")
    .attr("x1", 97).attr("x2", 126).attr("y1", cy).attr("y2", cy)
    .attr("stroke", s.color).attr("stroke-width", 3)
    .attr("stroke-dasharray", s.dash ? "10,7" : null);
  legend.append("text").attr("x", 133).attr("y", cy + 6)
    .attr("font-size", 16.4).text(s.name);
});
</script>
</body>
</html>
